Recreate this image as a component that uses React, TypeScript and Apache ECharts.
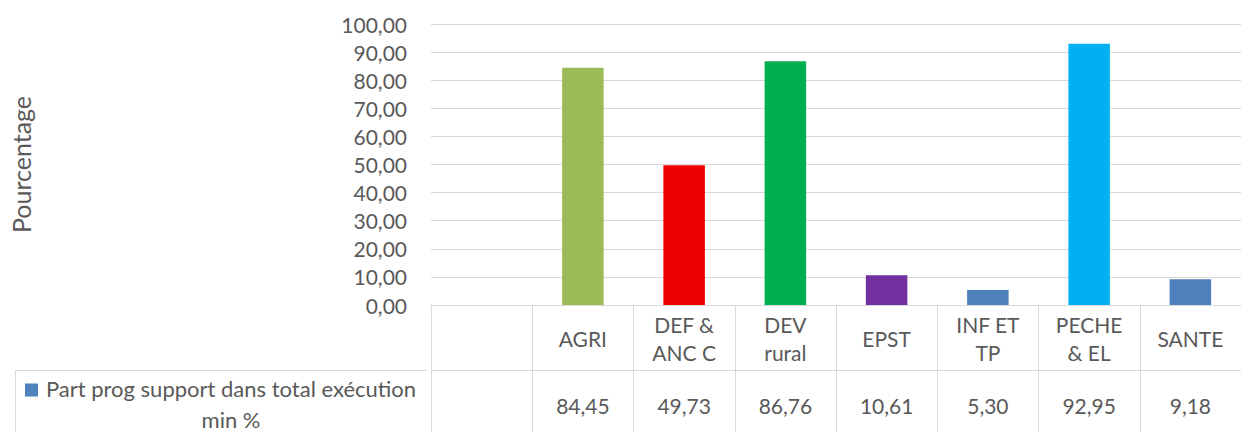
import React, { useEffect, useRef } from 'react';
import * as echarts from 'echarts';

const CATEGORIES = ['', 'AGRI', 'DEF &\nANC C', 'DEV\nrural', 'EPST', 'INF ET\nTP', 'PECHE\n& EL', 'SANTE'];
const VALUES: (number | null)[] = [null, 84.45, 49.73, 86.76, 10.61, 5.3, 92.95, 9.18];
const BAR_COLORS = ['#4F81BD', '#9BBB59', '#EE0000', '#00B050', '#7030A0', '#4F81BD', '#00B0F0', '#4F81BD'];
const SERIES_NAME = 'Part prog support dans total exécution min %';
const LEGEND_LINES = ['Part prog support dans total exécution', 'min %'];
const LEGEND_COLOR = '#4F81BD';
const Y_TITLE = 'Pourcentage';
const Y_MIN = 0;
const Y_MAX = 100;
const Y_STEP = 10;

const W = 1241;
const H = 432;
const GRID_LEFT = 427;
const GRID_TOP = 24;
const GRID_BOTTOM = 127;
const GRID_RIGHT = -14;
const ROW1_H = 65;
const LEGEND_BOX_LEFT = 15;
const FONT = 'Lato, "Open Sans", sans-serif';
const TEXT = '#595959';
const LINE = '#D9D9D9';

const fmt = (v: number | null) => (v == null ? '' : v.toFixed(2).replace('.', ','));

export default function App() {
  const ref = useRef<HTMLDivElement>(null);
  useEffect(() => {
    if (!ref.current) return;
    const chart = echarts.init(ref.current, undefined, { renderer: 'svg' });
    const tableTop = H - GRID_BOTTOM;
    const row2Top = tableTop + ROW1_H;
    chart.setOption({
      animation: false,
      backgroundColor: '#ffffff',
      textStyle: { fontFamily: FONT },
      grid: { left: GRID_LEFT, right: GRID_RIGHT, top: GRID_TOP, bottom: GRID_BOTTOM, containLabel: false },
      xAxis: [
        {
          type: 'category',
          data: CATEGORIES,
          position: 'bottom',
          boundaryGap: true,
          axisLine: { show: true, lineStyle: { color: LINE, width: 1 } },
          axisTick: { show: true, interval: 0, length: GRID_BOTTOM, lineStyle: { color: LINE, width: 1 } },
          axisLabel: {
            interval: 0,
            color: TEXT,
            fontSize: 21,
            fontFamily: FONT,
            lineHeight: 28,
            verticalAlign: 'middle',
            margin: 33,
          },
        },
        {
          type: 'category',
          data: VALUES.map(fmt),
          position: 'bottom',
          offset: ROW1_H,
          boundaryGap: true,
          axisLine: { show: true, lineStyle: { color: LINE, width: 1 } },
          axisTick: { show: false },
          axisLabel: {
            interval: 0,
            color: TEXT,
            fontSize: 21,
            fontFamily: FONT,
            verticalAlign: 'middle',
            margin: 35,
          },
        },
      ],
      yAxis: {
        type: 'value',
        min: Y_MIN,
        max: Y_MAX,
        interval: Y_STEP,
        name: Y_TITLE,
        nameLocation: 'middle',
        nameRotate: 90,
        nameGap: 398,
        nameTextStyle: { color: TEXT, fontSize: 25, fontFamily: FONT },
        axisLine: { show: false },
        axisTick: { show: false },
        axisLabel: {
          color: TEXT,
          fontSize: 21,
          fontFamily: FONT,
          margin: 24,
          formatter: (v: number) => fmt(v),
        },
        splitLine: { show: true, lineStyle: { color: LINE, width: 1 } },
      },
      series: [
        {
          type: 'bar',
          name: SERIES_NAME,
          xAxisIndex: 0,
          barCategoryGap: '59%',
          data: VALUES.map((v, i) => ({ value: v, itemStyle: { color: BAR_COLORS[i] } })),
        },
      ],
      graphic: [
        {
          type: 'polyline',
          shape: { points: [[LEGEND_BOX_LEFT + 0.5, H], [LEGEND_BOX_LEFT + 0.5, row2Top + 0.5], [GRID_LEFT, row2Top + 0.5]] },
          style: { stroke: LINE, lineWidth: 1, fill: null },
        },
        {
          type: 'rect',
          shape: { x: 25, y: 383.5, width: 13, height: 13 },
          style: { fill: LEGEND_COLOR },
        },
        {
          type: 'text',
          x: 231,
          y: 404,
          style: {
            text: LEGEND_LINES.join('\n'),
            align: 'center',
            verticalAlign: 'middle',
            fontSize: 22,
            fontFamily: FONT,
            lineHeight: 31,
            fill: TEXT,
          },
        },
      ],
    });
    return () => chart.dispose();
  }, []);
  return <div ref={ref} style={{ position: 'fixed', left: 0, top: 0, width: W, height: H }} />;
}
